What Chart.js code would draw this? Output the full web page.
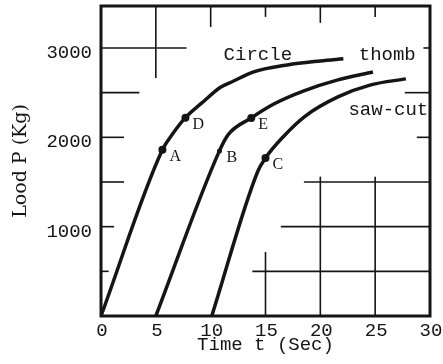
<!DOCTYPE html>
<html>
<head>
<meta charset="utf-8">
<script src="https://cdn.jsdelivr.net/npm/chart.js@4"></script>
<style>
  body { margin: 0; background: #fff; }
  .box { width: 443px; height: 364px; position: relative; }
</style>
</head>
<body>
<div class="box"><canvas id="grafico"></canvas></div>
<script>
// dados (tempo em seg, carga em kg)
const circleT = [0, 5.6, 6.6, 7.7, 9.2, 10.9, 12.0, 14.0, 17.0, 20.0, 22.1];
const circleP = [0, 1860, 2050, 2220, 2385, 2560, 2625, 2735, 2810, 2855, 2880];

const thombT = [5, 10.8, 11.6, 13.7, 15.8, 18.5, 21.6, 24.8];
const thombP = [0, 1848, 2030, 2217, 2375, 2520, 2643, 2732];

const sawT = [10.1, 14.3, 15.0, 16.6, 18.6, 21.6, 24.6, 27.8];
const sawP = [0, 1620, 1769, 2004, 2235, 2452, 2587, 2654];

// pontos marcados A..E
const markNames = ['A', 'D', 'B', 'E', 'C'];
const markT = [5.6, 7.7, 10.8, 13.7, 15.0];
const markP = [1860, 2220, 1848, 2217, 1769];

// nomes das curvas
const curveNames = ['Circle', 'thomb', 'saw-cut'];
const curveNameT = [14.3, 26.1, 26.2];
const curveNameP = [2925, 2925, 2307];

const yTicks = [1000, 2000, 3000];

const INK = '#151515';

// pedaços de grade que aparecem na figura: [x1, y1, x2, y2] em unidades dos eixos
const gridSegs = [
  [0, 3000, 7.8, 3000], [5, 3470, 5, 2665], [0, 2500, 3.5, 2500], [0, 2000, 2.1, 2000],
  [0, 1500, 2.1, 1500], [0, 1000, 1.2, 1000], [0, 500, 0.7, 500],
  [10, 3470, 10, 3236], [15, 3470, 15, 3348], [20, 3470, 20, 3281], [25, 3470, 25, 3348],
  [29.4, 3000, 30, 3000], [27.7, 2500, 30, 2500], [28.8, 2000, 30, 2000],
  [18.5, 1500, 30, 1500], [16.4, 1000, 30, 1000], [13.8, 500, 30, 500],
  [15, 0, 15, 717], [20, 0, 20, 1560], [25, 0, 25, 1560]
];

function pares(xs, ys) {
  return xs.map((x, i) => ({ x: x, y: ys[i] }));
}

function linha(xs, ys) {
  return {
    data: pares(xs, ys),
    borderColor: INK,
    borderWidth: 3.5,
    pointRadius: 0,
    cubicInterpolationMode: 'monotone',
    fill: false
  };
}

const decor = {
  id: 'decor',
  beforeDatasetsDraw(chart) {
    const { ctx, scales: { x, y } } = chart;
    ctx.save();
    ctx.strokeStyle = INK;
    ctx.lineWidth = 1.6;
    gridSegs.forEach(s => {
      ctx.beginPath();
      ctx.moveTo(x.getPixelForValue(s[0]), y.getPixelForValue(s[1]));
      ctx.lineTo(x.getPixelForValue(s[2]), y.getPixelForValue(s[3]));
      ctx.stroke();
    });
    ctx.restore();
  },
  afterDatasetsDraw(chart) {
    const { ctx, chartArea: a, scales: { x, y } } = chart;
    ctx.save();
    // moldura
    ctx.strokeStyle = INK;
    ctx.lineWidth = 3;
    ctx.strokeRect(a.left, a.top, a.right - a.left, a.bottom - a.top);
    // letras dos pontos
    ctx.fillStyle = INK;
    ctx.font = '16px "Liberation Serif"';
    ctx.textAlign = 'left';
    ctx.textBaseline = 'middle';
    markNames.forEach((n, i) => {
      ctx.fillText(n, x.getPixelForValue(markT[i]) + 7, y.getPixelForValue(markP[i]) + 7);
    });
    // nomes das curvas
    ctx.font = '19px "Liberation Mono"';
    ctx.textAlign = 'center';
    curveNames.forEach((n, i) => {
      ctx.fillText(n, x.getPixelForValue(curveNameT[i]), y.getPixelForValue(curveNameP[i]));
    });
    ctx.restore();
  }
};

new Chart(document.getElementById('grafico'), {
  type: 'line',
  data: {
    datasets: [
      linha(circleT, circleP),
      linha(thombT, thombP),
      linha(sawT, sawP),
      {
        data: pares(markT, markP),
        showLine: false,
        pointRadius: [4, 4, 2.5, 4, 4],
        pointBackgroundColor: INK,
        pointBorderWidth: 0
      }
    ]
  },
  options: {
    responsive: true,
    maintainAspectRatio: false,
    animation: false,
    layout: { padding: { top: 6, right: 13, left: 0, bottom: 0 } },
    plugins: { legend: { display: false }, tooltip: { enabled: false } },
    scales: {
      x: {
        type: 'linear',
        min: 0,
        max: 30,
        grid: { display: false, drawTicks: false },
        border: { display: false },
        ticks: { stepSize: 5, padding: 4, labelOffset: 1, color: INK, font: { family: 'Liberation Mono', size: 19 } },
        title: {
          display: true,
          text: 'Time t (Sec)',
          color: INK,
          font: { family: 'Liberation Mono', size: 19 },
          padding: { top: 0, bottom: 8 }
        },
        afterFit(s) { s.height = 48; s.paddingLeft = 0; s.paddingRight = 0; }
      },
      y: {
        type: 'linear',
        min: 0,
        max: 3470,
        grid: { display: false, drawTicks: false },
        border: { display: false },
        afterBuildTicks(s) { s.ticks = yTicks.map(v => ({ value: v })); },
        ticks: {
          padding: 9,
          labelOffset: 5,
          color: INK,
          font: { family: 'Liberation Mono', size: 19 },
          callback: v => String(v) // sem separador de milhar
        },
        title: {
          display: true,
          text: 'Lood P (Kg)',
          color: INK,
          font: { family: 'DejaVu Serif', size: 19 },
          padding: { top: 10, bottom: 0 }
        },
        afterFit(s) { s.width = 101; s.paddingTop = 0; s.paddingBottom = 0; }
      }
    }
  },
  plugins: [decor]
});
</script>
</body>
</html>
